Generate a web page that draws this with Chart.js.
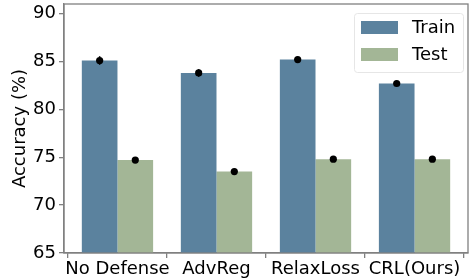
<!DOCTYPE html>
<html>
<head>
<meta charset="utf-8">
<script src="https://cdn.jsdelivr.net/npm/chart.js@4.4.0/dist/chart.umd.min.js"></script>
<style>
  html, body { margin: 0; padding: 0; background: #fff; }
  #wrap { width: 472px; height: 278px; }
</style>
</head>
<body>
<div id="wrap"><canvas id="chart"></canvas></div>
<script>
const categories = ['No Defense', 'AdvReg', 'RelaxLoss', 'CRL(Ours)'];
const trainAcc = [85.1, 83.8, 85.2, 82.7];
const testAcc = [74.7, 73.5, 74.8, 74.8];
const trainErr = [0.45, 0.4, 0.1, 0.1];
const testErr = [0.1, 0.1, 0.1, 0.1];
const yTicks = [65, 70, 75, 80, 85, 90];

const trainColor = '#5b829e';
const testColor = '#a3b696';
const spineColor = '#808080';
const font = 'DejaVu Sans';

// dots sit on the bar centres (bars are 0.36 wide each)
const dotShift = 0.18;

const trainDots = trainAcc.map((v, i) => ({ x: i - dotShift, y: v, err: trainErr[i] }));
const testDots = testAcc.map((v, i) => ({ x: i + dotShift, y: v, err: testErr[i] }));

const errorLines = {
    id: 'errorLines',
    afterDatasetsDraw(chart) {
        const { ctx, scales: { x, y } } = chart;
        ctx.save();
        ctx.strokeStyle = '#000';
        ctx.lineWidth = 1.5;
        [trainDots, testDots].forEach(list => {
            list.forEach(p => {
                const px = x.getPixelForValue(p.x);
                ctx.beginPath();
                ctx.moveTo(px, y.getPixelForValue(p.y - p.err));
                ctx.lineTo(px, y.getPixelForValue(p.y + p.err));
                ctx.stroke();
            });
        });
        ctx.restore();
    }
};

const frame = {
    id: 'frame',
    afterDraw(chart) {
        const { ctx, chartArea: a } = chart;
        ctx.save();
        ctx.strokeStyle = spineColor;
        ctx.lineWidth = 1.3;
        ctx.strokeRect(a.left, a.top, a.right - a.left, a.bottom - a.top);

        // legend box in the upper right corner
        const bx = 354, by = 13, bw = 109, bh = 59;
        ctx.fillStyle = 'rgba(255,255,255,0.8)';
        ctx.strokeStyle = '#e6e6e6';
        ctx.lineWidth = 1;
        ctx.beginPath();
        ctx.roundRect(bx + 0.5, by + 0.5, bw, bh, 3);
        ctx.fill();
        ctx.stroke();

        const items = chart.data.datasets.filter(d => d.type === 'bar');
        items.forEach((d, i) => {
            const ry = 21 + i * 27;
            ctx.fillStyle = d.backgroundColor;
            ctx.fillRect(361, ry, 37, 13);
            ctx.fillStyle = '#000';
            ctx.font = '18px "' + font + '"';
            ctx.textBaseline = 'middle';
            ctx.textAlign = 'left';
            ctx.fillText(d.label, 412, ry + 7);
        });
        ctx.restore();
    }
};

new Chart(document.getElementById('chart'), {
    data: {
        datasets: [
            {
                type: 'bar',
                label: 'Train',
                data: trainAcc.map((v, i) => ({ x: i, y: v })),
                backgroundColor: trainColor,
                categoryPercentage: 0.72,
                barPercentage: 1.0,
                order: 2
            },
            {
                type: 'bar',
                label: 'Test',
                data: testAcc.map((v, i) => ({ x: i, y: v })),
                backgroundColor: testColor,
                categoryPercentage: 0.72,
                barPercentage: 1.0,
                order: 2
            },
            {
                type: 'scatter',
                label: 'trainDots',
                data: trainDots,
                pointRadius: 3.6,
                pointBackgroundColor: '#000',
                pointBorderWidth: 0,
                order: 1
            },
            {
                type: 'scatter',
                label: 'testDots',
                data: testDots,
                pointRadius: 3.6,
                pointBackgroundColor: '#000',
                pointBorderWidth: 0,
                order: 1
            }
        ]
    },
    options: {
        responsive: true,
        maintainAspectRatio: false,
        animation: false,
        layout: { padding: { top: 4, right: 1, left: 0, bottom: 0 } },
        plugins: {
            legend: { display: false },
            tooltip: { enabled: false }
        },
        scales: {
            x: {
                type: 'linear',
                offset: false,
                min: -0.54,
                max: 3.54,
                afterBuildTicks(scale) {
                    scale.ticks = categories.map((c, i) => ({ value: i }));
                },
                afterFit(scale) {
                    scale.height = 25;
                    scale.paddingLeft = 0;
                    scale.paddingRight = 0;
                },
                ticks: {
                    autoSkip: false,
                    maxRotation: 0,
                    padding: 1,
                    color: '#000',
                    font: { family: font, size: 18 },
                    callback: v => categories[v]
                },
                grid: { drawOnChartArea: false, drawTicks: true, tickLength: 5, color: spineColor, lineWidth: 1.3 },
                border: { color: spineColor, width: 1.3 }
            },
            y: {
                min: 65,
                max: 91,
                afterBuildTicks(scale) {
                    scale.ticks = yTicks.map(v => ({ value: v }));
                },
                afterFit(scale) {
                    scale.width = 64;
                    scale.paddingTop = 0;
                    scale.paddingBottom = 0;
                },
                ticks: {
                    padding: 3,
                    color: '#000',
                    font: { family: font, size: 18 }
                },
                grid: { drawOnChartArea: false, drawTicks: true, tickLength: 5, color: spineColor, lineWidth: 1.3 },
                border: { color: spineColor, width: 1.3 },
                title: {
                    display: true,
                    text: 'Accuracy (%)',
                    color: '#000',
                    font: { family: font, size: 18 },
                    padding: { top: 10, bottom: 0 }
                }
            }
        }
    },
    plugins: [errorLines, frame]
});
</script>
</body>
</html>
